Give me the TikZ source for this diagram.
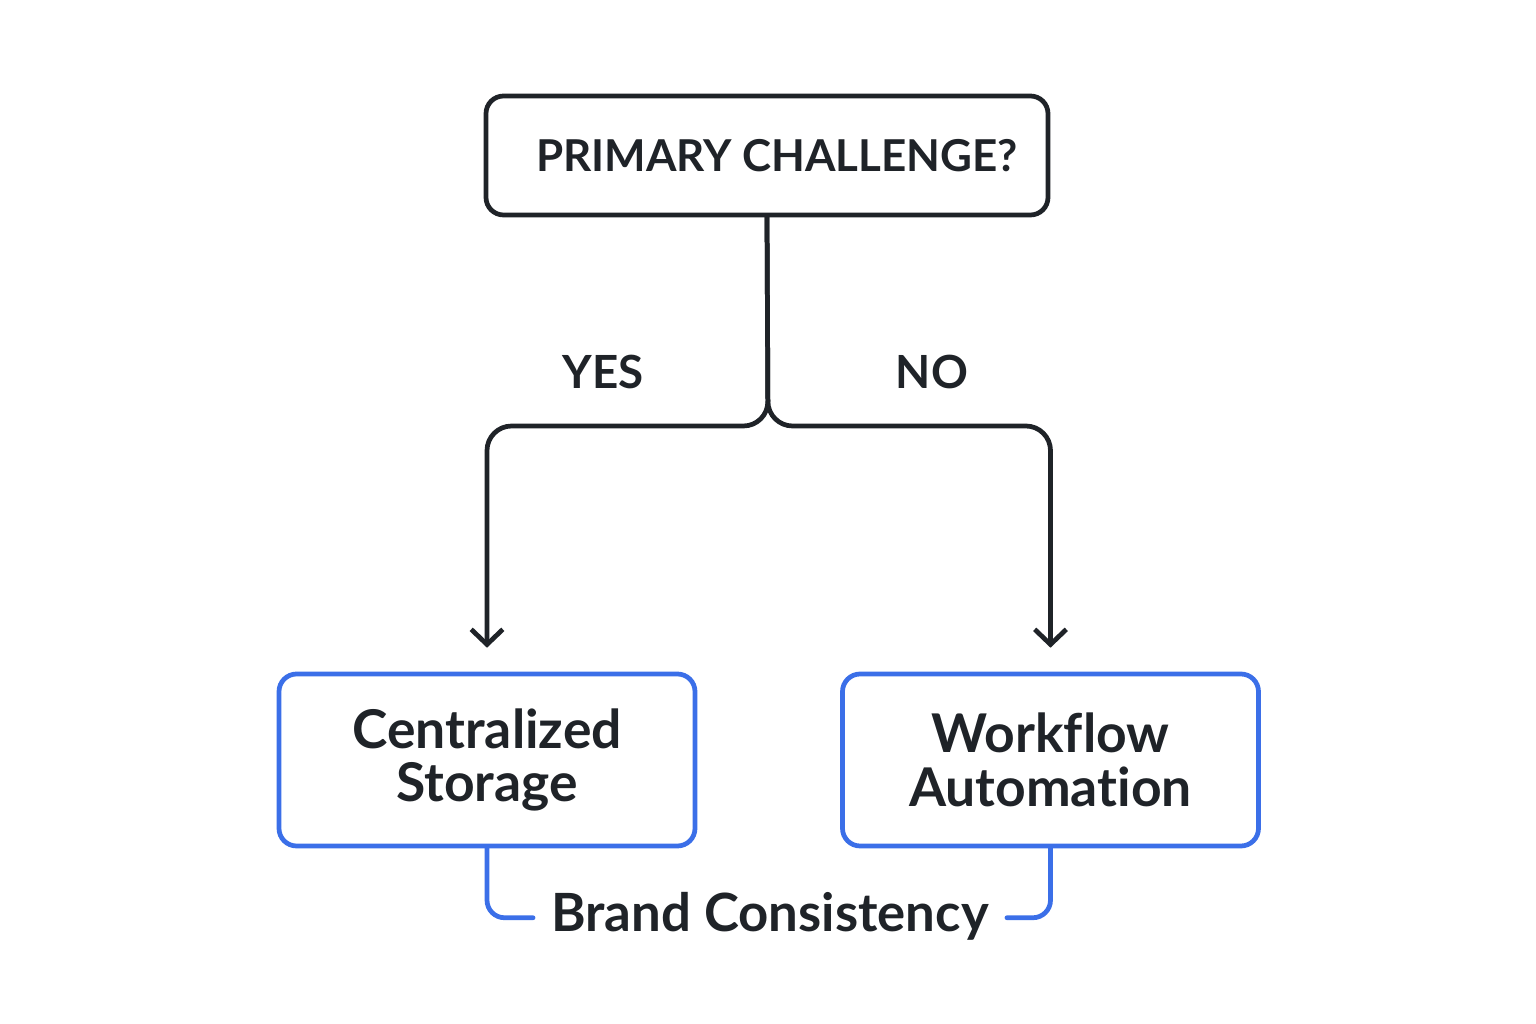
\documentclass[tikz,border=0pt]{standalone}
\usepackage{fontspec}
\setmainfont{Lato}[Ligatures=NoCommon]
\usetikzlibrary{positioning,arrows.meta}
\definecolor{ink}{HTML}{1F2328}
\definecolor{boxblue}{HTML}{3B6FE8}
\tikzset{
  question/.style={draw=ink, line width=1.35pt, rounded corners=5pt, minimum width=56.2mm, minimum height=11.9mm, text=ink, font=\fontsize{12.5}{15}\selectfont\bfseries},
  answer/.style={draw=boxblue, line width=1.35pt, rounded corners=5pt, minimum width=41.6mm, minimum height=17.2mm, align=center, text=ink, font=\fontsize{15.2}{15.2}\selectfont\bfseries},
  branch/.style={draw=ink, line width=1.35pt, rounded corners=7pt},
  link/.style={draw=boxblue, line width=1.35pt, rounded corners=5pt},
  tip/.style={-{Straight Barb[length=4.3pt,width=9pt,line width=1.35pt]}, shorten >=6.8pt},
}
\begin{document}
\begin{tikzpicture}[line join=round, line cap=round, >=stealth, x=0.1mm, y=-0.1mm]
\useasboundingbox (0,0) rectangle (1536,1024);
\node[question] (q) at (767,155.5) {\hspace*{2mm}PRIMARY CHALLENGE?};
\node[answer] (cs) at (487,760) {Centralized\\Storage};
\node[answer] (wa) at (1050.5,760) {Workflow\\Automation};
\node[text=ink, font=\fontsize{15}{17}\selectfont\bfseries, inner xsep=5pt] (bc) at (770,916) {Brand Consistency};
\coordinate (split) at (768,426);
% decision branches
\draw[branch, tip] (q.south) -- (split) -| (cs.north);
\draw[branch, tip] (q.south) -- (split) -| (wa.north);
\node[text=ink, font=\fontsize{13}{15}\selectfont\bfseries] (yes) at (603,372) {YES};
\node[text=ink, font=\fontsize{13}{15}\selectfont\bfseries] (no) at (932,372) {NO};
% shared outcome
\draw[link] (cs.south) |- ([yshift=-0.5pt]bc.west);
\draw[link] ([yshift=-0.5pt]bc.east) -| (wa.south);
\end{tikzpicture}
\end{document}
